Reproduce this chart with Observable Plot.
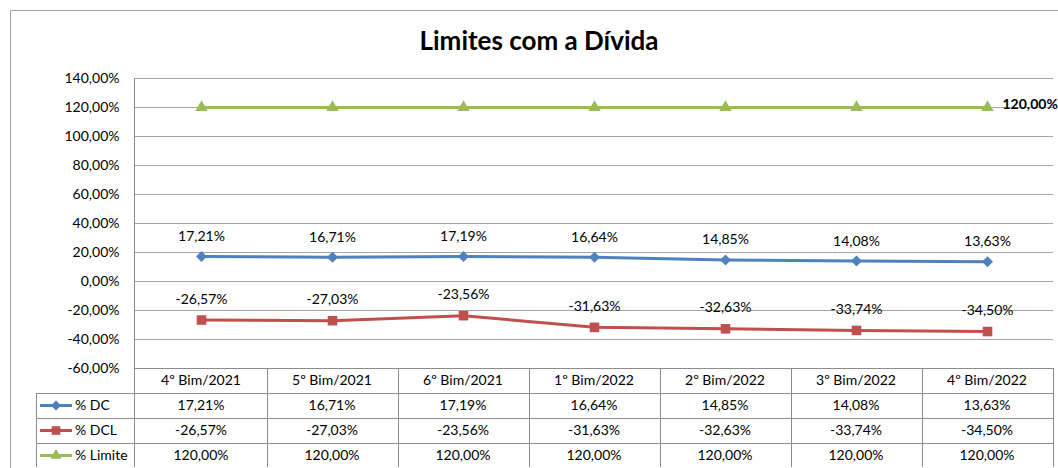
<!DOCTYPE html>
<html><head><meta charset="utf-8">
<script src="https://cdn.jsdelivr.net/npm/d3@7"></script>
<script src="https://cdn.jsdelivr.net/npm/@observablehq/plot@0.6"></script>
<style>
body{margin:0;background:#fff}
#chart{position:relative;width:1058px;height:468px;overflow:hidden;background:#fff}
</style>
</head><body><div id="chart"></div>
<script>
const title = "Limites com a Dívida";
const categories = ["4º Bim/2021","5º Bim/2021","6º Bim/2021","1º Bim/2022","2º Bim/2022","3º Bim/2022","4º Bim/2022"];
const seriesNames = ["% DC","% DCL","% Limite"];
const dc = [17.21,16.71,17.19,16.64,14.85,14.08,13.63];
const dcl = [-26.57,-27.03,-23.56,-31.63,-32.63,-33.74,-34.50];
const limite = [120,120,120,120,120,120,120];
const yTicks = [-60,-40,-20,0,20,40,60,80,100,120,140];

const colors = ["#4F81BD","#C0504D","#9BBB59"];
const fmt = v => v.toFixed(2).replace(".", ",") + "%";
const font = "Lato, 'Open Sans', sans-serif";

// rhombus marker (square rotated 45°)
const rhombus = {draw(ctx, size) { const s = Math.sqrt(size / Math.PI); ctx.moveTo(0, -s); ctx.lineTo(s, 0); ctx.lineTo(0, s); ctx.lineTo(-s, 0); ctx.closePath(); }};
const symbols = [rhombus, d3.symbolSquare, d3.symbolTriangle];
const sizes = [5.5, 5.4, 4.6];

const values = [dc, dcl, limite];
const rows = values.map((arr, s) => categories.map((c, i) => ({cat: c, v: arr[i], s})));

const W = 1058, H = 468, mL = 134, mR = 5, mT = 78, mB = 100;

const marks = [
  Plot.gridY(yTicks, {stroke: "#a6a6a6", strokeOpacity: 1}),
  Plot.axisY(yTicks, {tickSize: 0, tickPadding: 15, tickFormat: fmt, fontSize: 14, label: null, fill: "#000"}),
];
rows.forEach((d, s) => {
  marks.push(Plot.lineY(d, {x: "cat", y: "v", stroke: colors[s], strokeWidth: 3}));
  marks.push(Plot.dot(d, {x: "cat", y: "v", symbol: symbols[s], r: sizes[s], fill: colors[s], stroke: "none"}));
});
marks.push(Plot.text(rows[0], {x: "cat", y: "v", text: d => fmt(d.v), dy: -20, fontSize: 14, fill: "#000"}));
marks.push(Plot.text(rows[1], {x: "cat", y: "v", text: d => fmt(d.v), dy: -21, fontSize: 14, fill: "#000"}));
marks.push(Plot.text(rows[2].slice(-1), {x: "cat", y: "v", text: d => fmt(d.v), dx: 15, dy: -3, textAnchor: "start", fontSize: 14, fontWeight: "bold", fill: "#000"}));

const plot = Plot.plot({
  width: W, height: H,
  marginLeft: mL, marginRight: mR, marginTop: mT, marginBottom: mB,
  style: {fontFamily: font, fontSize: "14px", color: "#000", background: "transparent", overflow: "visible"},
  x: {type: "point", domain: categories, padding: 0.5, axis: null},
  y: {domain: [-60, 140]},
  marks
});
document.getElementById("chart").appendChild(plot);

const svg = d3.select(plot);
const xs = plot.scale("x");
const ys = plot.scale("y");
const step = xs.apply(categories[1]) - xs.apply(categories[0]);
const gridC = "#8c8c8c";
const top0 = ys.apply(-60);
const rowH = 25;
const bottom = top0 + rowH * 4 - 1;
const legendLeft = 36;
const right = W - mR;

// outer chart border
const g0 = svg.insert("g", ":first-child");
g0.append("path").attr("d", `M10.5,${H + 5}V10.5H${W + 5}`).attr("fill", "none").attr("stroke", "#a0a0a0");

const g = svg.append("g").attr("font-family", font).attr("font-size", 14).attr("fill", "#000").attr("text-anchor", "start");
// title
g.append("text").attr("x", 539).attr("y", 43).attr("text-anchor", "middle").attr("dominant-baseline", "middle")
  .attr("font-size", 26).attr("font-weight", "bold").text(title);

// left axis line through table
g.append("line").attr("x1", mL + 0.5).attr("x2", mL + 0.5).attr("y1", mT).attr("y2", bottom).attr("stroke", gridC);
// horizontal table lines
for (let r = 0; r <= 4; r++) {
  const y = Math.round(top0 + r * rowH) + 0.5;
  g.append("line").attr("x1", r === 0 ? mL : legendLeft).attr("x2", right).attr("y1", y).attr("y2", y).attr("stroke", gridC);
}
// vertical table lines
categories.forEach(c => {
  const xr = Math.round(xs.apply(c) + step / 2) + 0.5;
  g.append("line").attr("x1", xr).attr("x2", xr).attr("y1", top0).attr("y2", bottom).attr("stroke", gridC);
});
g.append("line").attr("x1", legendLeft + 0.5).attr("x2", legendLeft + 0.5).attr("y1", top0 + rowH).attr("y2", bottom).attr("stroke", gridC);

// header
categories.forEach(c => {
  g.append("text").attr("x", xs.apply(c)).attr("y", top0 + rowH / 2 + 1).attr("text-anchor", "middle")
    .attr("dominant-baseline", "middle").text(c);
});
// data rows
values.forEach((arr, s) => {
  const yc = top0 + rowH * (s + 1) + rowH / 2 + 1;
  arr.forEach((v, i) => {
    g.append("text").attr("x", xs.apply(categories[i])).attr("y", yc).attr("text-anchor", "middle")
      .attr("dominant-baseline", "middle").text(fmt(v));
  });
  // legend key
  g.append("line").attr("x1", 40).attr("x2", 72).attr("y1", yc - 1).attr("y2", yc - 1).attr("stroke", colors[s]).attr("stroke-width", 3);
  const r = sizes[s] * 0.9;
  g.append("path").attr("d", d3.symbol(symbols[s], Math.PI * r * r)())
    .attr("transform", `translate(56,${yc - 1})`).attr("fill", colors[s]);
  g.append("text").attr("x", 75).attr("y", yc).attr("text-anchor", "start").attr("dominant-baseline", "middle").text(seriesNames[s]);
});
</script></body></html>
